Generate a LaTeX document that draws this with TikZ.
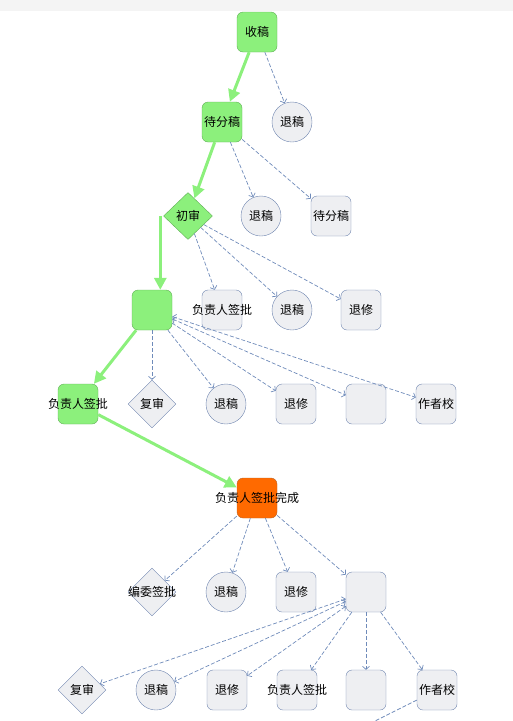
\documentclass[tikz,border=0pt]{standalone}
\usepackage{fontspec}
\setmainfont{Noto Sans CJK SC}
\usepackage{tikz}
\usetikzlibrary{arrows.meta,shapes.geometric}
\usepackage{xcolor}
\definecolor{boxgreen}{HTML}{8CF07C}
\definecolor{edgegreen}{HTML}{5FAE55}
\definecolor{boxgray}{HTML}{EEEFF2}
\definecolor{edgegray}{HTML}{7086B0}
\definecolor{boxorange}{HTML}{FF6A00}
\definecolor{edgeorange}{HTML}{B8642A}
\definecolor{dashblue}{HTML}{6F8BBA}
\definecolor{topbar}{HTML}{F4F4F4}

\begin{document}
\begin{tikzpicture}[
  x=1pt, y=-1pt,
  every node/.style={font=\fontsize{12}{14}\selectfont, inner sep=0pt},
  greenbox/.style={draw=edgegreen, fill=boxgreen, rounded corners=6pt, minimum width=40pt, minimum height=40pt},
  graybox/.style={draw=edgegray, fill=boxgray, rounded corners=6pt, minimum width=40pt, minimum height=40pt},
  orangebox/.style={draw=edgeorange, fill=boxorange, rounded corners=6pt, minimum width=40pt, minimum height=40pt},
  graycirc/.style={draw=edgegray, fill=boxgray, circle, minimum size=40pt},
  graydiam/.style={draw=edgegray, fill=boxgray, diamond, minimum width=48pt, minimum height=48pt},
  greendiam/.style={draw=edgegreen, fill=boxgreen, diamond, minimum width=49pt, minimum height=47pt},
  flow/.style={draw=boxgreen, line width=3pt, -{Triangle[length=12pt,width=12pt]}},
  link/.style={draw=dashblue, line width=0.7pt, dash pattern=on 4pt off 2pt, -{Straight Barb[length=3pt,width=7pt]}},
  twoway/.style={link, {Straight Barb[length=3pt,width=7pt]}-{Straight Barb[length=3pt,width=7pt]}},
]
  \useasboundingbox (0,0) rectangle (513,721);
  \clip (0,0) rectangle (513,721);
  \fill[topbar] (0,0) rectangle (513,11);

  % Receipt
  \node[greenbox] (shougao) at (257,32) {收稿};
  \node[graycirc] (tuigaoA) at (292,122) {退稿};
  \node[greenbox] (daifen) at (222,122) {待分稿};

  % Assignment
  \node[graycirc] (tuigaoB) at (261,216) {退稿};
  \node[graybox] (daifenB) at (331,216) {待分稿};
  \node[greendiam] (chushen) at (188,216) {初审};

  % First review
  \node[greenbox] (blankA) at (152,310) {};
  \node[graybox, label={center:负责人签批}] (qianpiA) at (222,310) {};
  \node[graycirc] (tuigaoC) at (292,310) {退稿};
  \node[graybox] (tuixiuA) at (361,310) {退修};

  % Second row of choices
  \node[greenbox, label={center:负责人签批}] (qianpiB) at (78,404) {};
  \node[graydiam] (fushenA) at (152,404) {复审};
  \node[graycirc] (tuigaoD) at (226,404) {退稿};
  \node[graybox] (tuixiuB) at (296,404) {退修};
  \node[graybox] (blankB) at (366,404) {};
  \node[graybox] (zuozheA) at (436,404) {作者校};

  % Sign-off done
  \node[orangebox, label={center:负责人签批完成}] (wancheng) at (257,498) {};
  \node[graydiam, label={center:编委签批}] (bianwei) at (152,592) {};
  \node[graycirc] (tuigaoE) at (226,592) {退稿};
  \node[graybox] (tuixiuC) at (296,592) {退修};
  \node[graybox] (blankC) at (366,592) {};

  % Last row
  \node[graydiam] (fushenB) at (82,690) {复审};
  \node[graycirc] (tuigaoF) at (156,690) {退稿};
  \node[graybox] (tuixiuD) at (227,690) {退修};
  \node[graybox, label={center:负责人签批}] (qianpiC) at (297,690) {};
  \node[graybox] (blankD) at (366,690) {};
  \node[graybox] (zuozheB) at (437,690) {作者校};
  \coordinate (offpage) at (337,740);

  % Main path
  \draw[flow] (shougao) -- (daifen);
  \draw[flow] (daifen) -- (chushen);
  \draw[flow] ([xshift=-3pt]chushen.west) -- ([xshift=-3pt]chushen.west |- blankA.north);
  \draw[flow] (blankA) -- (qianpiB);
  \draw[flow] (qianpiB) -- (wancheng);

  % Other choices
  \draw[link] (shougao) -- (tuigaoA);
  \draw[link] (daifen) -- (tuigaoB);
  \draw[link] (daifen) -- (daifenB);
  \draw[link] (chushen) -- (qianpiA);
  \draw[link] (chushen) -- (tuigaoC);
  \draw[link] (chushen) -- (tuixiuA);
  \draw[link] (blankA) -- (fushenA);
  \draw[link] (blankA) -- (tuigaoD);
  \draw[link] (blankA) -- (tuixiuB);
  \draw[twoway] (blankA) -- (blankB);
  \draw[twoway] (blankA) -- (zuozheA);
  \draw[link] (wancheng) -- (bianwei);
  \draw[link] (wancheng) -- (tuigaoE);
  \draw[link] (wancheng) -- (tuixiuC);
  \draw[link] (wancheng) -- (blankC);
  \draw[twoway] (blankC) -- (fushenB);
  \draw[twoway] (blankC) -- (tuigaoF);
  \draw[twoway] (blankC) -- (tuixiuD);
  \draw[link] (blankC) -- (qianpiC);
  \draw[link] (blankC) -- (blankD);
  \draw[link] (blankC) -- (zuozheB);
  \draw[link] (zuozheB) -- (offpage);
\end{tikzpicture}
\end{document}
